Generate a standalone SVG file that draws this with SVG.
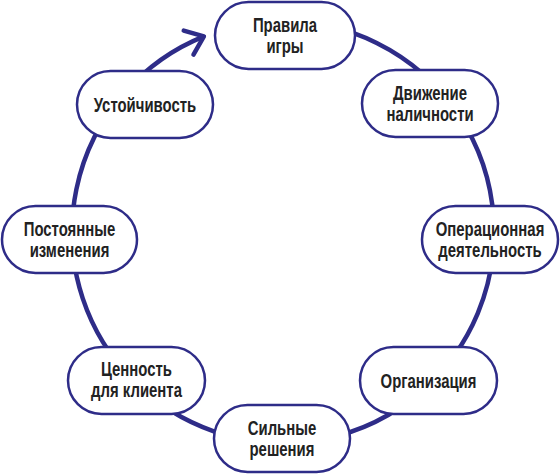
<svg xmlns="http://www.w3.org/2000/svg" width="560" height="475" viewBox="0 0 560 475">
<style>
.node rect{fill:#fff;stroke:#2e2c88;stroke-width:2.5}
.node text{font-family:"Liberation Sans",Arial,sans-serif;font-weight:bold;font-size:21px;fill:#222;text-anchor:middle}
.conn{fill:none;stroke:#2e2c88;stroke-width:4.5}
</style>
<defs>
<marker id="arr" markerUnits="userSpaceOnUse" viewBox="-22 -18 28 36" markerWidth="28" markerHeight="36" refX="0" refY="0" orient="auto">
<path d="M-16.5,-13 L0,0 L-16.5,13" fill="none" stroke="#2e2c88" stroke-width="4.5" stroke-linecap="round" stroke-linejoin="round"/>
</marker>
</defs>
<rect width="560" height="475" fill="#fff"/>
<g id="connectors">
<path class="conn" d="M283,21 A211,211 0 1 1 203.9,36.4" marker-end="url(#arr)"/>
</g>
<g id="n1" class="node"><rect x="215" y="2" width="140" height="67" rx="33.5"/><text transform="translate(285,31.5) scale(0.71,1)">Правила</text><text transform="translate(285,52.5) scale(0.71,1)">игры</text></g>
<g id="n2" class="node"><rect x="362" y="70" width="136" height="67" rx="33.5"/><text transform="translate(430,100) scale(0.71,1)">Движение</text><text transform="translate(430,121) scale(0.71,1)">наличности</text></g>
<g id="n3" class="node"><rect x="422" y="206" width="136" height="67" rx="33.5"/><text transform="translate(490,235.5) scale(0.71,1)">Операционная</text><text transform="translate(490,256.5) scale(0.71,1)">деятельность</text></g>
<g id="n4" class="node"><rect x="360" y="347" width="137" height="67" rx="33.5"/><text transform="translate(428.5,387.5) scale(0.71,1)">Организация</text></g>
<g id="n5" class="node"><rect x="214" y="405" width="136" height="67" rx="33.5"/><text transform="translate(282,435) scale(0.71,1)">Сильные</text><text transform="translate(282,456) scale(0.71,1)">решения</text></g>
<g id="n6" class="node"><rect x="68" y="347" width="137" height="67" rx="33.5"/><text transform="translate(136.5,376) scale(0.71,1)">Ценность</text><text transform="translate(136.5,397) scale(0.71,1)">для клиента</text></g>
<g id="n7" class="node"><rect x="2" y="206" width="135" height="67" rx="33.5"/><text transform="translate(69.5,235.5) scale(0.71,1)">Постоянные</text><text transform="translate(69.5,256.5) scale(0.71,1)">изменения</text></g>
<g id="n8" class="node"><rect x="77" y="71" width="136" height="67" rx="33.5"/><text transform="translate(145,111.5) scale(0.71,1)">Устойчивость</text></g>
</svg>
